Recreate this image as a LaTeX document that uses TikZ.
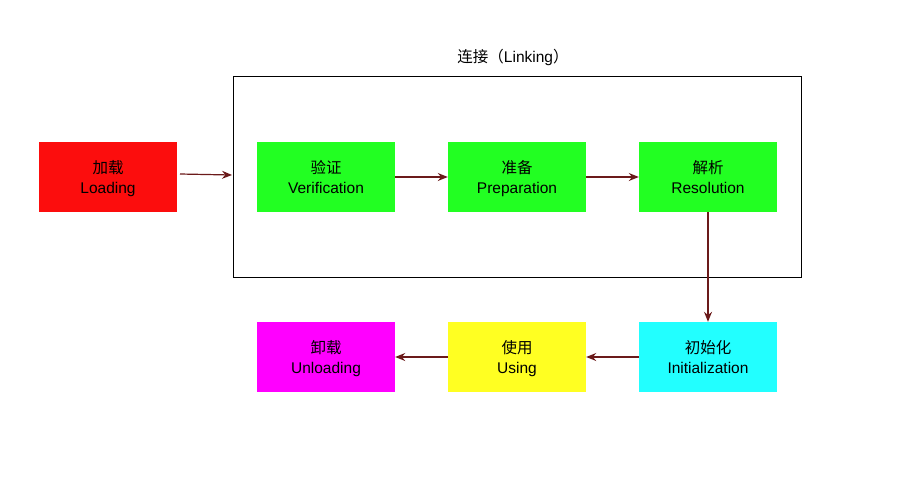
\documentclass[tikz,border=0pt]{standalone}
\usepackage{fontspec}
\setmainfont{Liberation Sans}
\newfontfamily\cjk{Noto Sans CJK SC}
\usetikzlibrary{arrows.meta}
\definecolor{redbox}{HTML}{FC0D0D}
\definecolor{greenbox}{HTML}{22FF22}
\definecolor{cyanbox}{HTML}{22FFFF}
\definecolor{yellowbox}{HTML}{FFFF22}
\definecolor{magbox}{HTML}{FF00FF}
\definecolor{arrowc}{HTML}{6B1A1A}
\newcommand{\twolines}[2]{{\cjk #1}\rule{0pt}{18pt}\\#2\strut}
\begin{document}
\begin{tikzpicture}[x=1pt,y=-1pt,
  stage/.style={minimum width=138pt,minimum height=70pt,inner sep=0pt,align=center,font=\fontsize{15.5}{20}\selectfont},
  conn/.style={draw=arrowc,line width=1.2pt,-{Stealth[length=10pt,width=8pt]}}]
\useasboundingbox (0,0) rectangle (900,483);
\node[draw=black,line width=1pt,minimum width=568pt,minimum height=201pt,inner sep=0pt] (frame) at (517,176.5) {};
\node[font=\fontsize{15.5}{18}\selectfont] (title) at (513,57) {{\cjk 连接（}Linking{\cjk ）}};
\node[stage,fill=redbox] (load) at (108,177) {\twolines{加载}{Loading}};
\node[stage,fill=greenbox] (ver) at (326,177) {\twolines{验证}{Verification}};
\node[stage,fill=greenbox] (prep) at (517,177) {\twolines{准备}{Preparation}};
\node[stage,fill=greenbox] (res) at (708,177) {\twolines{解析}{Resolution}};
\node[stage,fill=cyanbox] (init) at (708,357) {\twolines{初始化}{Initialization}};
\node[stage,fill=yellowbox] (use) at (517,357) {\twolines{使用}{Using}};
\node[stage,fill=magbox] (unl) at (326,357) {\twolines{卸载}{Unloading}};
\coordinate (ls) at (180,174);
\coordinate (le) at (232,175);
\draw[conn] (ls) -- (le);
\draw[conn] (ver.east) -- (prep.west);
\draw[conn] (prep.east) -- (res.west);
\draw[conn] (res.south) -- (init.north);
\draw[conn] (init.west) -- (use.east);
\draw[conn] (use.west) -- (unl.east);
\end{tikzpicture}
\end{document}
